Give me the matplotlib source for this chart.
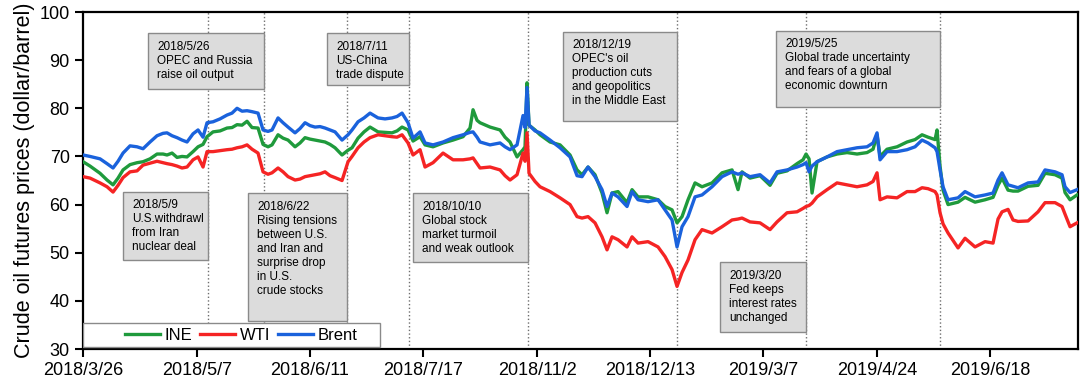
import matplotlib
matplotlib.use("Agg")
import matplotlib.pyplot as plt
from matplotlib.patches import Rectangle

plt.rcParams['font.family'] = ['Liberation Sans', 'DejaVu Sans']

# observation index (trading sample number)
obs = [0, 7, 17, 24, 30, 35, 40, 47, 54, 60, 67, 74, 80, 84, 89, 94, 99, 104, 110, 115,
       120, 124, 130, 137, 144, 149, 154, 159, 164, 169, 175, 180, 185, 189, 195, 200, 205, 212, 217, 222,
       227, 232, 237, 242, 247, 252, 259, 265, 269, 275, 281, 287, 295, 302, 309, 314, 319, 325, 330, 337,
       342, 350, 360, 370, 380, 387, 390, 394, 397, 407, 417, 422, 427, 434, 440, 442, 444, 446, 452, 457,
       467, 477, 487, 494, 499, 505, 512, 519, 524, 529, 535, 544, 549, 555, 565, 575, 582, 589, 594, 599,
       605, 612, 619, 629, 639, 649, 655, 659, 667, 677, 687, 694, 704, 714, 720, 723, 726, 729, 734, 744,
       754, 764, 774, 784, 790, 794, 797, 804, 814, 824, 832, 839, 845, 852, 854, 857, 860, 865, 875, 882,
       892, 902, 910, 915, 919, 925, 930, 935, 945, 955, 962, 972, 979, 982, 987, 994]

ine = [68.9, 68.0, 66.5, 65.1, 64.1, 65.5, 67.2, 68.3, 68.7, 68.9, 69.5, 70.5, 70.5, 70.3, 70.7, 69.8, 70.0, 69.9, 71.0, 72.0,
       72.5, 74.1, 75.1, 75.3, 75.9, 76.0, 76.6, 76.5, 77.3, 76.0, 75.9, 72.5, 72.0, 72.4, 74.5, 73.8, 73.4, 72.0, 72.8, 73.9,
       73.6, 73.4, 73.2, 73.0, 72.5, 71.8, 70.3, 71.3, 71.8, 73.8, 75.1, 76.1, 75.1, 75.0, 74.9, 75.3, 76.1, 75.5, 73.2, 74.1,
       72.4, 72.0, 72.8, 73.4, 74.1, 75.9, 79.7, 77.5, 77.0, 76.1, 75.5, 74.0, 73.0, 69.9, 71.4, 72.0, 85.3, 76.5, 75.5, 74.5,
       73.0, 72.4, 70.3, 67.2, 66.2, 67.8, 66.2, 62.4, 58.3, 62.4, 62.7, 60.4, 63.1, 61.6, 61.6, 61.0, 59.6, 58.9, 56.2, 57.5,
       61.0, 64.5, 63.7, 64.5, 66.6, 67.2, 63.1, 66.8, 65.5, 66.0, 64.0, 66.5, 67.0, 68.5, 69.3, 70.5, 69.5, 62.4, 68.9, 69.9,
       70.5, 70.8, 70.5, 70.8, 71.5, 74.5, 70.0, 71.5, 72.0, 73.0, 73.5, 74.5, 74.0, 73.5, 75.5, 68.0, 63.0, 60.0, 60.5, 61.5,
       60.5, 61.0, 61.5, 64.0, 65.5, 63.0, 62.8, 62.8, 63.8, 64.0, 66.5, 66.2, 65.5, 62.5, 61.0, 62.0]

wti = [65.8, 65.5, 64.5, 63.7, 62.6, 64.0, 65.6, 66.8, 67.0, 68.2, 68.6, 69.0, 68.7, 68.5, 68.3, 68.0, 67.6, 67.8, 69.3, 69.9,
       67.8, 71.0, 71.0, 71.2, 71.4, 71.5, 71.8, 72.0, 72.4, 71.5, 70.7, 66.8, 66.3, 66.6, 67.6, 66.8, 65.8, 65.1, 65.3, 65.8,
       66.0, 66.2, 66.4, 66.8, 66.0, 65.6, 65.0, 68.9, 70.0, 71.8, 73.0, 73.9, 74.5, 74.3, 74.1, 74.0, 74.5, 72.8, 70.3, 71.4,
       67.8, 68.7, 70.7, 69.3, 69.3, 69.5, 69.7, 68.5, 67.6, 67.8, 67.2, 66.0, 65.1, 66.2, 70.7, 69.0, 74.9, 66.5, 64.8, 63.7,
       62.7, 61.4, 60.0, 57.5, 57.2, 57.5, 56.2, 53.3, 50.6, 53.3, 52.7, 51.2, 53.3, 52.0, 52.3, 51.2, 49.2, 46.5, 43.0, 45.9,
       48.5, 52.7, 54.8, 54.1, 55.4, 56.8, 57.0, 57.2, 56.4, 56.2, 54.8, 56.4, 58.3, 58.5, 59.2, 59.6, 59.8, 60.3, 61.6, 63.1,
       64.5, 64.1, 63.7, 64.1, 64.8, 66.6, 61.0, 61.6, 61.4, 62.7, 62.7, 63.5, 63.3, 62.7, 62.0, 58.3, 56.0, 54.1, 51.0, 53.0,
       51.2, 52.3, 52.0, 57.0, 58.5, 59.0, 56.8, 56.5, 56.6, 58.5, 60.4, 60.4, 59.6, 58.0, 55.4, 56.2]

brent = [70.3, 70.0, 69.5, 68.5, 67.6, 69.0, 70.7, 72.2, 72.0, 71.6, 73.0, 74.3, 74.8, 74.9, 74.3, 73.9, 73.4, 73.0, 74.7, 75.5,
         74.0, 77.0, 77.2, 77.8, 78.6, 79.0, 80.0, 79.4, 79.5, 79.3, 79.0, 75.5, 75.2, 75.5, 78.0, 77.0, 76.1, 74.9, 75.8, 77.0,
         76.4, 76.1, 76.2, 75.9, 75.5, 75.1, 73.4, 74.5, 75.5, 77.2, 78.0, 79.0, 78.0, 77.8, 78.0, 78.3, 79.0, 77.0, 73.8, 75.1,
         72.8, 72.4, 73.0, 73.9, 74.5, 75.0, 75.1, 74.0, 73.0, 72.4, 72.8, 72.0, 71.4, 72.4, 78.5, 76.0, 84.3, 76.5, 75.3, 74.9,
         73.4, 71.8, 69.9, 66.0, 65.8, 67.8, 65.8, 63.1, 59.6, 62.4, 61.6, 59.6, 62.7, 61.0, 60.6, 61.0, 58.9, 56.8, 51.2, 55.4,
         57.5, 61.6, 62.0, 63.7, 65.8, 66.8, 66.3, 66.6, 65.8, 66.2, 64.5, 66.8, 67.2, 67.8, 68.3, 68.7, 66.8, 68.0, 68.9, 69.9,
         71.0, 71.4, 71.8, 72.0, 72.8, 74.9, 69.3, 71.0, 71.0, 71.4, 72.0, 73.4, 72.8, 71.8, 71.0, 67.2, 63.7, 61.0, 61.4, 62.7,
         61.6, 62.0, 62.4, 65.1, 66.6, 64.1, 63.8, 63.5, 64.5, 64.7, 67.2, 66.8, 66.2, 63.7, 62.5, 63.1]

tick_obs = [0, 114, 227, 340, 454, 567, 680, 794, 907]
tick_labels = ['2018/3/26', '2018/5/7', '2018/6/11', '2018/7/17', '2018/11/2',
               '2018/12/13', '2019/3/7', '2019/4/24', '2019/6/18']

# event markers: observation of the dotted line, box (left, bottom, top) and text
event_obs = [125, 181, 264, 326, 445, 594, 723, 857]
box_left = [40, 65, 165, 244, 330, 480, 637, 693]
box_bottom = [48.5, 84.0, 35.9, 84.9, 48.1, 77.4, 33.6, 80.3]
box_top = [62.7, 95.6, 62.4, 95.6, 62.4, 95.9, 48.1, 96.1]
event_text = [
    "2018/5/9\nU.S.withdrawl\nfrom Iran\nnuclear deal",
    "2018/5/26\nOPEC and Russia\nraise oil output",
    "2018/6/22\nRising tensions\nbetween U.S.\nand Iran and\nsurprise drop\nin U.S.\ncrude stocks",
    "2018/7/11\nUS-China\ntrade dispute",
    "2018/10/10\nGlobal stock\nmarket turmoil\nand weak outlook",
    "2018/12/19\nOPEC's oil\nproduction cuts\nand geopolitics\nin the Middle East",
    "2019/3/20\nFed keeps\ninterest rates\nunchanged",
    "2019/5/25\nGlobal trade uncertainty\nand fears of a global\neconomic downturn",
]

fig = plt.figure(figsize=(10.84, 3.85), dpi=100)
ax = fig.add_axes([0.0766, 0.0935, 0.9179, 0.8753])

for xe in event_obs:
    ax.axvline(xe, color='#6e6e6e', linestyle=':', linewidth=1.0, zorder=1)

for i in range(len(event_text)):
    w = event_obs[i] - box_left[i]
    rect = Rectangle((box_left[i], box_bottom[i]), w, box_top[i] - box_bottom[i],
                     facecolor='#dcdcdc', edgecolor='#8a8a8a', linewidth=1.0, zorder=2)
    ax.add_patch(rect)
    ax.text(box_left[i] + 9, box_top[i] - 1.6, event_text[i], fontsize=8.5,
            va='top', ha='left', linespacing=1.22, zorder=3)

ax.plot(obs, ine, color='#1f9a3c', linewidth=2.4, label='INE', zorder=4)
ax.plot(obs, wti, color='#f52424', linewidth=2.4, label='WTI', zorder=5)
ax.plot(obs, brent, color='#1a62dc', linewidth=2.4, label='Brent', zorder=6)

ax.set_xlim(0, 995)
ax.set_ylim(30, 100)
ax.set_yticks([30, 40, 50, 60, 70, 80, 90, 100])
ax.set_xticks(tick_obs)
ax.set_xticklabels(tick_labels)
ax.tick_params(axis='both', labelsize=13, width=1.5, length=6, direction='out')
ax.tick_params(axis='x', pad=3)
for s in ax.spines.values():
    s.set_linewidth(1.6)
ax.set_ylabel('Crude oil futures prices (dollar/barrel)', fontsize=15.5, labelpad=3)

# legend frame
ax.add_patch(Rectangle((0.0, 0.006), 0.2985, 0.071, transform=ax.transAxes,
                       facecolor='white', edgecolor='#8a8a8a', linewidth=1.0, zorder=7))
leg = ax.legend(loc='center', bbox_to_anchor=(0.159, 0.0415), ncol=3, frameon=False,
                fontsize=12, handlelength=2.1, handletextpad=0.3, columnspacing=0.45,
                borderpad=0.1)
leg.set_zorder(8)

fig.savefig('out.png', dpi=100)
